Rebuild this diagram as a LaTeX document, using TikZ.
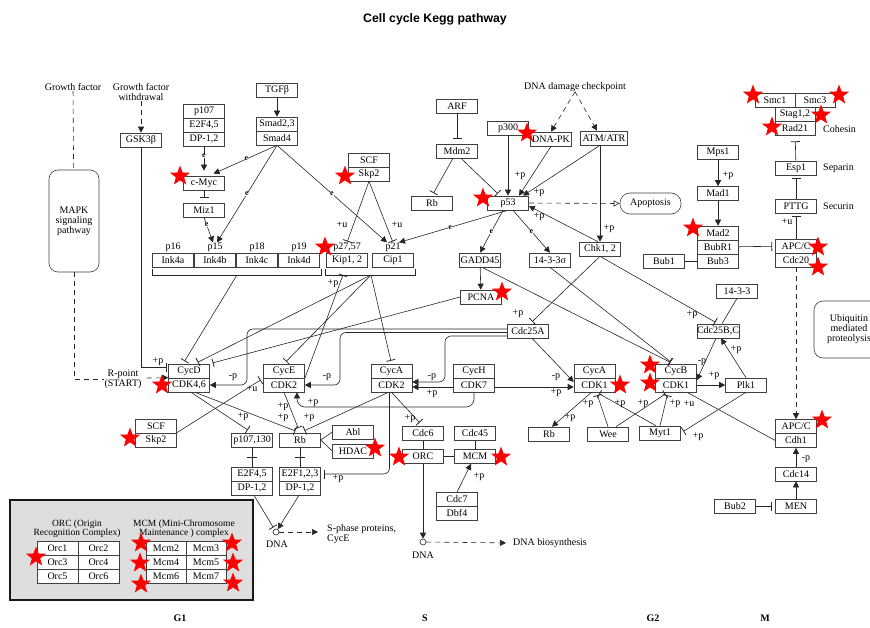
\documentclass[tikz,border=0pt]{standalone}
\usepackage{fontspec}
\setmainfont{Liberation Serif}
\newfontfamily\titlefont{Liberation Sans}
\usetikzlibrary{arrows.meta,shapes.geometric,calc}
\newcommand\kfs{\fontsize{10}{10}\selectfont}
\begin{document}
\begin{tikzpicture}[x=1pt,y=-1pt,
  bx/.style={draw=black!75, line width=0.6pt, minimum width=41pt, minimum height=14pt, inner sep=0pt, font=\kfs, fill=white},
  lbl/.style={font=\kfs, inner sep=0pt},
  ed/.style={draw=black!85, line width=0.6pt},
  act/.style={ed, -{Triangle[length=6pt,width=6pt]}},
  dact/.style={act, dash pattern=on 5pt off 4pt},
  inh/.style={ed, -{Bar[width=9pt,line width=0.8pt]}, shorten >=3pt},
  dsh/.style={ed, dash pattern=on 5pt off 4pt},
  emark/.style={font=\fontsize{8}{8}\selectfont\bfseries, inner sep=0.1pt, fill=white},
  rstar/.style={star, star points=5, star point ratio=2.4, fill=red, draw=none, inner sep=0pt, minimum size=21pt},
  phase/.style={font=\fontsize{10}{10}\selectfont\bfseries, inner sep=0pt}
]
\clip (0,0) rectangle (870,628);
\fill[white] (0,0) rectangle (870,628);

% title
\node[font=\titlefont\bfseries\fontsize{12.3}{14}\selectfont] (title) at (435,19) {Cell cycle Kegg pathway};

% ---------- top left ----------
\node[lbl] (gf) at (73,87) {Growth factor};
\node[lbl,align=center] (gfw) at (141,92) {Growth factor\\withdrawal};
\node[draw=black!75, line width=0.6pt, rounded corners=9pt, minimum width=50pt, minimum height=102pt, align=center, font=\kfs, inner sep=0pt] (mapk) at (74,221) {MAPK\\signaling\\pathway};
\node[bx] (gsk) at (141,140) {GSK3β};
\node[lbl,align=center] (rpt) at (123,379) {R-point\\(START)};
\coordinate (rp2) at (147,378);

\node[bx] (p107) at (204,111) {p107};
\node[bx] (e2f45a) at (204,125) {E2F4,5};
\node[bx] (dp12a) at (204,139) {DP-1,2};
\node[bx] (tgfb) at (277,90) {TGFβ};
\node[bx] (smad23) at (277,124) {Smad2,3};
\node[bx] (smad4) at (277,138) {Smad4};
\node[bx] (cmyc) at (204,183) {c-Myc};
\node[bx] (miz1) at (204,210) {Miz1};

\node[lbl] (p16) at (173,247) {p16};
\node[lbl] (p15) at (215,247) {p15};
\node[lbl] (p18) at (257,247) {p18};
\node[lbl] (p19) at (299,247) {p19};
\node[lbl] (p2757) at (347,247) {p27,57};
\node[lbl] (p21) at (393,247) {p21};
\node[bx] (ink4a) at (173,260) {Ink4a};
\node[bx] (ink4b) at (215,260) {Ink4b};
\node[bx] (ink4c) at (257,260) {Ink4c};
\node[bx] (ink4d) at (299,260) {Ink4d};
\node[bx] (kip12) at (347,260) {Kip1, 2};
\node[bx] (cip1) at (393,260) {Cip1};
\draw[ed] (152,269) -- (152,275) -- (321,275) -- (321,269);
\draw[ed] (325,269) -- (325,275) -- (415,275) -- (415,269);
\coordinate (inkb) at (237,275);
\coordinate (kipb) at (343,275);
\coordinate (cipb) at (371,275);

\node[bx] (scf1) at (369,160) {SCF};
\node[bx] (skp2a) at (369,174) {Skp2};

% ---------- top middle ----------
\node[bx] (arf) at (457,106) {ARF};
\node[bx] (mdm2) at (457,151) {Mdm2};
\node[bx] (rbtop) at (432,203) {Rb};
\node[bx] (p300) at (508,128) {p300};
\node[bx] (dnapk) at (551,139) {DNA-PK};
\node[bx, minimum width=47pt] (atm) at (604,138) {ATM/ATR};
\node[lbl] (ddc) at (575,87) {DNA damage checkpoint};
\node[bx] (p53) at (508,203) {p53};
\node[draw=black!75, line width=0.6pt, rounded corners=10pt, minimum width=61pt, minimum height=21pt, font=\kfs] (apop) at (650.5,203.5) {Apoptosis};
\node[bx] (chk12) at (600,249) {Chk1, 2};
\node[bx] (gadd45) at (480,260) {GADD45};
\node[bx] (s1433) at (550,260) {14-3-3σ};
\node[bx] (pcna) at (481,297) {PCNA};
\node[bx] (cdc25a) at (528,331) {Cdc25A};

% ---------- right ----------
\node[bx, minimum width=40pt] (smc1) at (775,100) {Smc1};
\node[bx, minimum width=40pt] (smc3) at (815,100) {Smc3};
\node[bx, minimum width=40pt] (stag) at (795,114) {Stag1,2};
\node[bx, minimum width=40pt] (rad21) at (795,128) {Rad21};
\node[lbl, anchor=west] (cohl) at (823,129) {Cohesin};
\node[bx] (esp1) at (796,168) {Esp1};
\node[lbl, anchor=west] (sepl) at (823,168) {Separin};
\node[bx] (pttg) at (796,206) {PTTG};
\node[lbl, anchor=west] (secl) at (823,206) {Securin};
\node[bx] (mps1) at (718,152.5) {Mps1};
\node[bx] (mad1) at (718,193.5) {Mad1};
\node[bx] (mad2) at (718,233) {Mad2};
\node[bx] (bubr1) at (718,247) {BubR1};
\node[bx] (bub3) at (718,261) {Bub3};
\node[bx] (bub1) at (664,261) {Bub1};
\node[bx] (apcc1) at (796,246) {APC/C};
\node[bx] (cdc20) at (796,260) {Cdc20};
\node[draw=black!75, line width=0.6pt, rounded corners=9pt, minimum width=70pt, minimum height=57pt, align=center, font=\kfs, inner sep=0pt] (ubq) at (849,329.5) {Ubiquitin\\mediated\\proteolysis};
\node[bx] (k1433) at (737,291) {14-3-3};
\node[bx] (cdc25bc) at (718,331) {Cdc25B,C};

% ---------- middle row ----------
\node[bx] (cycd) at (189,371) {CycD};
\node[bx] (cdk46) at (189,385) {CDK4,6};
\node[bx] (cyce) at (284,371) {CycE};
\node[bx] (cdk2e) at (284,385) {CDK2};
\node[bx] (cyca2) at (391.5,371) {CycA};
\node[bx] (cdk2a) at (391.5,385) {CDK2};
\node[bx] (cych) at (474,371) {CycH};
\node[bx] (cdk7) at (474,385) {CDK7};
\node[bx] (cyca1) at (594.5,371) {CycA};
\node[bx] (cdk1a) at (594.5,385) {CDK1};
\node[bx] (cycb) at (676,371) {CycB};
\node[bx] (cdk1b) at (676,385) {CDK1};
\node[bx] (plk1) at (746,385) {Plk1};

% ---------- lower ----------
\node[bx] (scf2) at (156,426) {SCF};
\node[bx] (skp2b) at (156,440) {Skp2};
\node[bx] (p107130) at (252,440) {p107,130};
\node[bx] (rb1) at (300,440) {Rb};
\node[bx] (abl) at (353,432) {Abl};
\node[bx] (hdac) at (353,451) {HDAC};
\node[bx] (e2f45b) at (252,474) {E2F4,5};
\node[bx] (dp12b) at (252,488) {DP-1,2};
\node[bx] (e2f123) at (300,474) {E2F1,2,3};
\node[bx] (dp12c) at (300,488) {DP-1,2};
\node[circle, draw=black!85, line width=0.6pt, minimum size=6pt, inner sep=0pt] (dna1) at (276,532) {};
\node[lbl] (dna1l) at (277,544) {DNA};
\node[lbl, align=left, anchor=west] (sph) at (327,534) {S-phase proteins,\\CycE};
\coordinate (sphin) at (318,532);
\node[bx] (cdc6) at (423,433.5) {Cdc6};
\node[bx] (cdc45) at (475,433.5) {Cdc45};
\node[bx] (orc) at (423,456.5) {ORC};
\node[bx] (mcm) at (475,456.5) {MCM};
\node[bx] (cdc7) at (457,499.5) {Cdc7};
\node[bx] (dbf4) at (457,513.5) {Dbf4};
\node[circle, draw=black!85, line width=0.6pt, minimum size=6pt, inner sep=0pt] (dna2) at (423,542) {};
\node[lbl] (dna2l) at (423,555) {DNA};
\node[lbl, anchor=west] (dnab) at (513,543) {DNA biosynthesis};
\node[bx] (rb2) at (549,434) {Rb};
\node[bx] (wee) at (608,434) {Wee};
\node[bx] (myt1) at (660,433) {Myt1};
\node[bx] (apcc2) at (796,426.5) {APC/C};
\node[bx] (cdh1) at (796,440.5) {Cdh1};
\node[bx] (cdc14) at (796,474) {Cdc14};
\node[bx] (men) at (796,506) {MEN};
\node[bx] (bub2) at (735,506) {Bub2};

% ---------- legend ----------
\node[draw=black!90, line width=1.6pt, fill=black!13, minimum width=243pt, minimum height=100pt, inner sep=0pt] (legend) at (131.5,550) {};
\node[lbl, align=center, font=\fontsize{9.5}{9.5}\selectfont] (orct) at (77,528.5) {ORC (Origin\\Recognition Complex)};
\node[lbl, align=center, font=\fontsize{9.5}{9.5}\selectfont] (mcmt) at (184,528.5) {MCM (Mini-Chromosome\\Maintenance ) complex};
\node[bx] (o1) at (57.5,548) {Orc1};
\node[bx] (o2) at (98.5,548) {Orc2};
\node[bx] (o3) at (57.5,562) {Orc3};
\node[bx] (o4) at (98.5,562) {Orc4};
\node[bx] (o5) at (57.5,576) {Orc5};
\node[bx] (o6) at (98.5,576) {Orc6};
\node[bx, minimum width=40pt] (m2) at (166,548) {Mcm2};
\node[bx, minimum width=40pt] (m3) at (206,548) {Mcm3};
\node[bx, minimum width=40pt] (m4) at (166,562) {Mcm4};
\node[bx, minimum width=40pt] (m5) at (206,562) {Mcm5};
\node[bx, minimum width=40pt] (m6) at (166,576) {Mcm6};
\node[bx, minimum width=40pt] (m7) at (206,576) {Mcm7};

% phases
\node[phase] (g1) at (180,618) {G1};
\node[phase] (sph2) at (425,618) {S};
\node[phase] (g2) at (653,618) {G2};
\node[phase] (mph) at (765,618) {M};

% ---------- connectors ----------
\draw[dsh] (gf) -- (mapk);
\draw[dsh] (mapk.south) |- (rpt.west);
\draw[dact] (rp2) -- (cdk46.north west);
\draw[dact] (gfw) -- (gsk);
\draw[inh, shorten >=1pt] (gsk.south) |- ([yshift=4pt]cycd.west);

\draw[act] (tgfb) -- (smad23);
\draw[act, shorten >=5pt] (dp12a.south) -- node[emark,pos=0.33](e1){e} (cmyc.north);
\draw[act, shorten >=5pt] (smad4.south) -- node[emark,pos=0.45](e2){e} ([xshift=5pt]cmyc.north);
\draw[inh, shorten >=5pt] (cmyc) -- (miz1);
\draw[act] (miz1.south) -- node[emark,pos=0.3](e3){e} ([xshift=-2pt]p15.north);
\draw[act] (smad4.south) -- node[emark,pos=0.5](e4){e} ([xshift=2pt]p15.north);
\draw[act] (smad4.south) -- node[emark,pos=0.5](e5){e} ([xshift=-6pt]p21.north);
\draw[act] (p53.south) -- node[emark,pos=0.53](e6){e} ([xshift=6pt]p21.north);
\draw[inh, shorten >=1pt] (skp2a.south) -- (p2757.north);
\draw[inh, shorten >=1pt] (skp2a.south) -- (p21.north);

\draw[inh, shorten >=5pt] (arf) -- (mdm2);
\draw[inh] ([xshift=-4pt]mdm2.south) -- (rbtop.north);
\draw[inh] ([xshift=4pt]mdm2.south) -- ([xshift=-8pt]p53.north);
\draw[dact] (ddc.south) -- (dnapk.north);
\draw[dact] (ddc.south) -- ([xshift=-7pt]atm.north);
\draw[act] (p300) -- (p53);
\draw[act] (dnapk.south) -- ([xshift=11pt]p53.north);
\draw[act] ([xshift=-4pt]atm.south) -- ([xshift=15pt]p53.north);
\draw[act] ([xshift=-4pt]atm.south) -- (chk12.north);
\draw[act] ([xshift=-2pt]chk12.north) -- ([yshift=-3pt]p53.east);
\draw[dsh, -{Triangle[open,length=6pt,width=6pt]}] (p53.east) -- (apop.west);
\draw[act] ([xshift=-5pt]p53.south) -- node[emark,pos=0.5](e7){e} (gadd45.north);
\draw[act] ([xshift=5pt]p53.south) -- node[emark,pos=0.5](e8){e} (s1433.north);
\draw[act] (gadd45) -- (pcna);
\draw[inh] ([xshift=2pt]gadd45.south) -- ([xshift=-3pt]cycb.north);
\draw[inh] (s1433.south) -- ([xshift=-3pt]cycb.north);
\draw[inh] (chk12.south) -- ([xshift=2pt]cdc25a.north);
\draw[inh] (chk12.south) -- (cdc25bc.north);
\draw[ed] (k1433.south) -- ([xshift=4pt]cdc25bc.north);
\draw[inh] (pcna.west) -- (cycd.north east);

\draw[inh] (inkb) -- ([xshift=-6pt]cycd.north);
\draw[inh] (cipb) -- ([xshift=6pt]cycd.north);
\draw[inh] (cipb) -- (cyce.north);
\draw[inh] (cipb) -- (cyca2.north);
\draw[inh, shorten >=0pt] (cyce.south east) -- (kipb);

% Cdc25A -> CDKs
\draw[act, rounded corners=6pt] ([yshift=2pt]cdc25a.west) -- (247,329) -- (247,385) -- (cdk46.east);
\draw[act, rounded corners=6pt] ([yshift=-1.5pt]cdc25a.west) -- (340,332.5) -- (340,385) -- (cdk2e.east);
\draw[act, rounded corners=6pt] ([yshift=-5pt]cdc25a.west) -- (445,336) -- (445,382) -- ([yshift=3pt]cdk2a.east);
\draw[act] ([xshift=4pt]cdc25a.south) -- ([yshift=3pt]cdk1a.west);
\draw[act] ([yshift=-2pt]cdk7.east) -- ([yshift=-2pt]cdk1a.west);
\draw[act] ([yshift=-2pt]cdk7.west) -- ([yshift=-2pt]cdk2a.east);
\draw[act, rounded corners=8pt] (cdk7.south) -- (474,407) -- (297,407) -- ([xshift=13pt]cdk2e.south);

\draw[inh] (skp2b.north east) -- (cyce.south west);
\draw[inh, shorten >=5pt] ([xshift=2pt]cdk46.south) -- (p107130.north);
\draw[inh, shorten >=5pt] ([xshift=6pt]cdk46.south) -- (rb1.north);
\draw[inh, shorten >=5pt] (cdk2e.south) -- (rb1.north);
\draw[inh, shorten >=5pt] ([xshift=-3pt]cdk2a.south) -- (rb1.north);
\draw[inh, shorten >=5pt] (cdk2a.south) -- (cdc6.north);
\draw[inh, rounded corners=6pt] ([xshift=-2pt]cdk2a.south) -- (389.5,474) -- (e2f123.east);
\draw[ed] (rb1.east) -- (abl.west);
\draw[ed] (rb1.east) -- (hdac.west);
\draw[ed] (p107130) -- (e2f45b);
\draw[ed] ($(p107130.south)!0.5!(e2f45b.north)+(-5,0)$) -- ++(10,0);
\draw[ed] (rb1) -- (e2f123);
\draw[ed] ($(rb1.south)!0.5!(e2f123.north)+(-5,0)$) -- ++(10,0);
\draw[inh, shorten >=2pt] ([xshift=2pt]dp12b.south) -- (dna1);
\draw[act] ([xshift=-1pt]dp12c.south) -- (dna1);
\draw[dact] (dna1) -- (sphin);

\draw[ed] (cdc6) -- (orc);
\draw[ed] (cdc45) -- (mcm);
\draw[ed] (orc) -- (mcm);
\draw[act] (cdc7.north) -- ([xshift=-4pt]mcm.south);
\draw[act] (orc) -- (dna2);
\draw[dact, shorten >=7pt] (dna2) -- (dnab.west);

% G2/M
\draw[act] ([xshift=-2pt]cdc25bc.south) -- ([yshift=-2pt]cycb.south east);
\draw[act] (plk1.north) -- ([xshift=3pt]cdc25bc.south);
\draw[act] (cdk1b.east) -- (plk1.west);
\draw[inh] (plk1.south) -- (myt1.east);
\draw[inh] (wee.north) -- ([xshift=2pt]cdk1a.south);
\draw[inh] ([xshift=-4pt]myt1.north) -- ([xshift=2pt]cdk1a.south);
\draw[inh] ([xshift=8pt]wee.north) -- ([xshift=-8pt]cdk1b.south);
\draw[inh] (myt1.north) -- ([xshift=-8pt]cdk1b.south);
\draw[ed] (cdh1.west) -- ([xshift=11pt]cdk1b.south);
\draw[act] ([xshift=-3pt]cdk1a.south) -- ([xshift=3pt]rb2.north);

\draw[inh, shorten >=6pt] (esp1) -- (rad21);
\draw[inh] (pttg) -- (esp1);
\draw[inh] (apcc1) -- (pttg);
\draw[act] (mps1) -- (mad1);
\draw[act] (mad1) -- (mad2);
\draw[ed] (bub1) -- (bub3);
\draw[inh] (bubr1) -- (apcc1);
\draw[dact] (cdc20) -- (apcc2);
\draw[act] (cdc14) -- (cdh1);
\draw[act] (men) -- (cdc14);
\draw[inh] (bub2) -- (men);

% ---------- edge labels ----------
\node[lbl] (l1) at (158,362) {+p};
\node[lbl] (l2) at (233,377) {-p};
\node[lbl] (l3) at (327,377) {-p};
\node[lbl] (l4) at (432,377) {-p};
\node[lbl] (l5) at (432,394) {+p};
\node[lbl] (l6) at (556,377) {-p};
\node[lbl] (l7) at (556,393) {+p};
\node[lbl] (l8) at (313,403) {+p};
\node[lbl] (l9) at (333,284) {+p};
\node[lbl] (l10) at (252,389) {+u};
\node[lbl] (l11) at (243,417) {+p};
\node[lbl] (l12) at (283,407) {+p};
\node[lbl] (l13) at (283,418) {+p};
\node[lbl] (l14) at (309,418) {+p};
\node[lbl] (l15) at (410,419) {+p};
\node[lbl] (l16) at (338,479) {+p};
\node[lbl] (l17) at (479,477) {+p};
\node[lbl] (l18) at (342,225) {+u};
\node[lbl] (l19) at (397,225) {+u};
\node[lbl] (l20) at (520,176) {+p};
\node[lbl] (l21) at (539,193) {+p};
\node[lbl] (l22) at (609,229) {+p};
\node[lbl] (l23) at (539,217) {+p};
\node[lbl] (l24) at (518,314) {+p};
\node[lbl] (l25) at (692,315) {+p};
\node[lbl] (l26) at (702,362) {-p};
\node[lbl] (l27) at (736,350) {+p};
\node[lbl] (l28) at (714,376) {+p};
\node[lbl] (l29) at (698,437) {+p};
\node[lbl] (l30) at (588,404) {+p};
\node[lbl] (l31) at (570,418) {+p};
\node[lbl] (l32) at (620,404) {+p};
\node[lbl] (l33) at (643,404) {+p};
\node[lbl] (l34) at (675,404) {+p};
\node[lbl] (l35) at (689,404) {+u};
\node[lbl] (l36) at (728,176) {+p};
\node[lbl] (l37) at (787,222) {+u};
\node[lbl] (l38) at (806,459) {-p};

% ---------- stars ----------
\node[rstar] (s1) at (180,176) {};
\node[rstar] (s2) at (345,176) {};
\node[rstar] (s3) at (325,247) {};
\node[rstar] (s4) at (527,133) {};
\node[rstar] (s5) at (483,198) {};
\node[rstar] (s6) at (502,292) {};
\node[rstar] (s7) at (753,95) {};
\node[rstar] (s8) at (839,95) {};
\node[rstar] (s9) at (821,115) {};
\node[rstar] (s10) at (772,127) {};
\node[rstar] (s11) at (693,228) {};
\node[rstar] (s12) at (818,247) {};
\node[rstar] (s13) at (818,267) {};
\node[rstar] (s14) at (162,385) {};
\node[rstar] (s15) at (130,438) {};
\node[rstar] (s16) at (375,448) {};
\node[rstar] (s17) at (399,457) {};
\node[rstar] (s18) at (501,457) {};
\node[rstar] (s19) at (620,385) {};
\node[rstar] (s20) at (650,365) {};
\node[rstar] (s21) at (650,383) {};
\node[rstar] (s22) at (822,420) {};
\node[rstar] (s23) at (36,557) {};
\node[rstar] (s24) at (141,543) {};
\node[rstar] (s25) at (140,563) {};
\node[rstar] (s26) at (141,584) {};
\node[rstar] (s27) at (232,543) {};
\node[rstar] (s28) at (233,563) {};
\node[rstar] (s29) at (233,583) {};
\end{tikzpicture}
\end{document}
